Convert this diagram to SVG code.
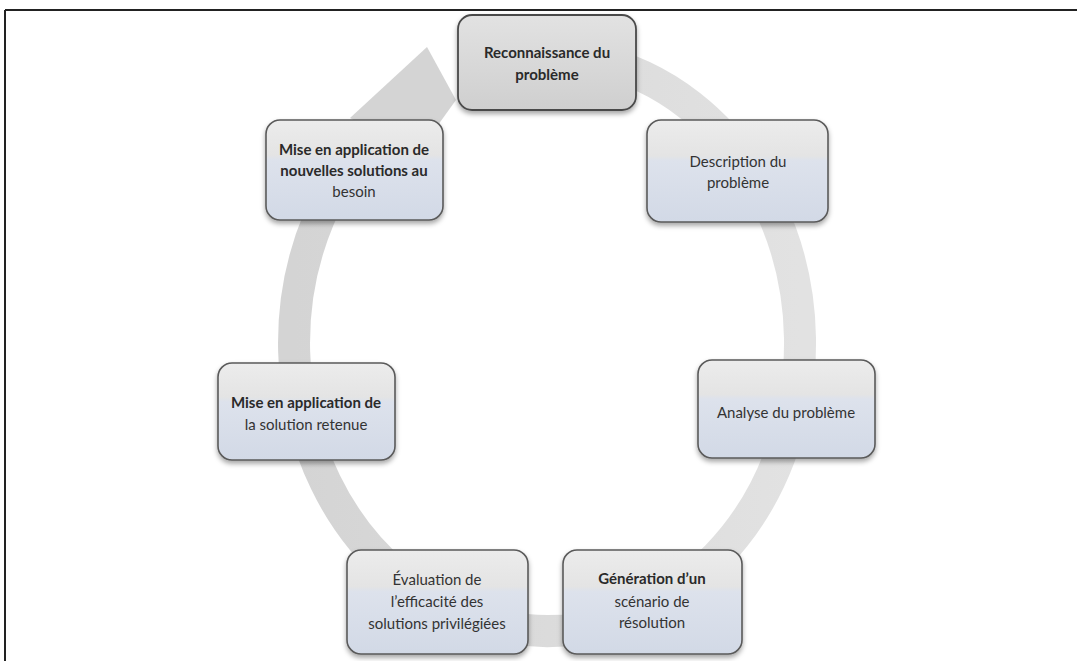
<svg xmlns="http://www.w3.org/2000/svg" width="1077" height="661" viewBox="0 0 1077 661">
  <style>
    .box { fill: url(#boxFill); stroke: #5a5a5a; stroke-width: 1.6; filter: url(#shadow); }
    .boxGray { fill: url(#grayFill); stroke: #4a4a4a; stroke-width: 1.8; filter: url(#shadow); }
    .lbl { font-family: Lato, "Open Sans", "Liberation Sans", sans-serif; font-size: 15px; fill: #333; text-anchor: middle; }
    .b { font-weight: bold; fill: #2a2a2a; }
    .ring { fill: none; stroke: url(#ringFill); stroke-width: 32; }
  </style>
  <defs>
    <linearGradient id="boxFill" x1="0" y1="0" x2="0" y2="1">
      <stop offset="0" stop-color="#ececec"/>
      <stop offset="0.35" stop-color="#e4e4e4"/>
      <stop offset="0.4" stop-color="#dde2ec"/>
      <stop offset="1" stop-color="#d2d9e6"/>
    </linearGradient>
    <linearGradient id="grayFill" x1="0" y1="0" x2="0" y2="1">
      <stop offset="0" stop-color="#e2e2e2"/>
      <stop offset="1" stop-color="#cfcfcf"/>
    </linearGradient>
    <linearGradient id="ringFill" x1="0" y1="0" x2="1" y2="0">
      <stop offset="0" stop-color="#d4d4d4"/>
      <stop offset="1" stop-color="#e2e2e2"/>
    </linearGradient>
    <filter id="shadow" x="-10%" y="-10%" width="120%" height="130%">
      <feDropShadow dx="0" dy="3" stdDeviation="2.5" flood-color="#000" flood-opacity="0.35"/>
    </filter>
  </defs>

  <rect width="1077" height="661" fill="#ffffff"/>

  <!-- page frame -->
  <g id="frame" stroke="#222" stroke-width="2" fill="none">
    <line x1="5" y1="10" x2="1077" y2="10"/>
    <line x1="5" y1="10" x2="5" y2="661"/>
  </g>

  <!-- circular flow arrow -->
  <g id="connectors">
    <path class="ring" d="M 591 59.4 A 253 288 0 1 1 384.4 122.4"/>
    <polygon points="350,118 427,47 456,100 438,125 400,145" fill="#d4d4d4"/>
  </g>

  <g id="n1">
    <rect class="boxGray" x="458" y="15" width="178" height="95" rx="14"/>
    <text class="lbl b" x="547" y="58">Reconnaissance du</text>
    <text class="lbl b" x="547" y="80">problème</text>
  </g>

  <g id="n2">
    <rect class="box" x="647" y="120" width="181" height="102" rx="14"/>
    <text class="lbl" x="738" y="167">Description du</text>
    <text class="lbl" x="738" y="188">problème</text>
  </g>

  <g id="n3">
    <rect class="box" x="698" y="360" width="177" height="98" rx="14"/>
    <text class="lbl" x="786" y="418">Analyse du problème</text>
  </g>

  <g id="n4">
    <rect class="box" x="563" y="550" width="179" height="104" rx="14"/>
    <text class="lbl b" x="652" y="584">Génération d’un</text>
    <text class="lbl" x="652" y="607">scénario de</text>
    <text class="lbl" x="652" y="628">résolution</text>
  </g>

  <g id="n5">
    <rect class="box" x="347" y="550" width="181" height="104" rx="14"/>
    <text class="lbl" x="437" y="585">Évaluation de</text>
    <text class="lbl" x="437" y="607">l’efficacité des</text>
    <text class="lbl" x="437" y="629">solutions privilégiées</text>
  </g>

  <g id="n6">
    <rect class="box" x="218" y="363" width="177" height="97" rx="14"/>
    <text class="lbl b" x="306" y="408">Mise en application de</text>
    <text class="lbl" x="306" y="430">la solution retenue</text>
  </g>

  <g id="n7">
    <rect class="box" x="266" y="120" width="177" height="100" rx="14"/>
    <text class="lbl b" x="354" y="155">Mise en application de</text>
    <text class="lbl b" x="354" y="176">nouvelles solutions au</text>
    <text class="lbl" x="354" y="197">besoin</text>
  </g>
</svg>
